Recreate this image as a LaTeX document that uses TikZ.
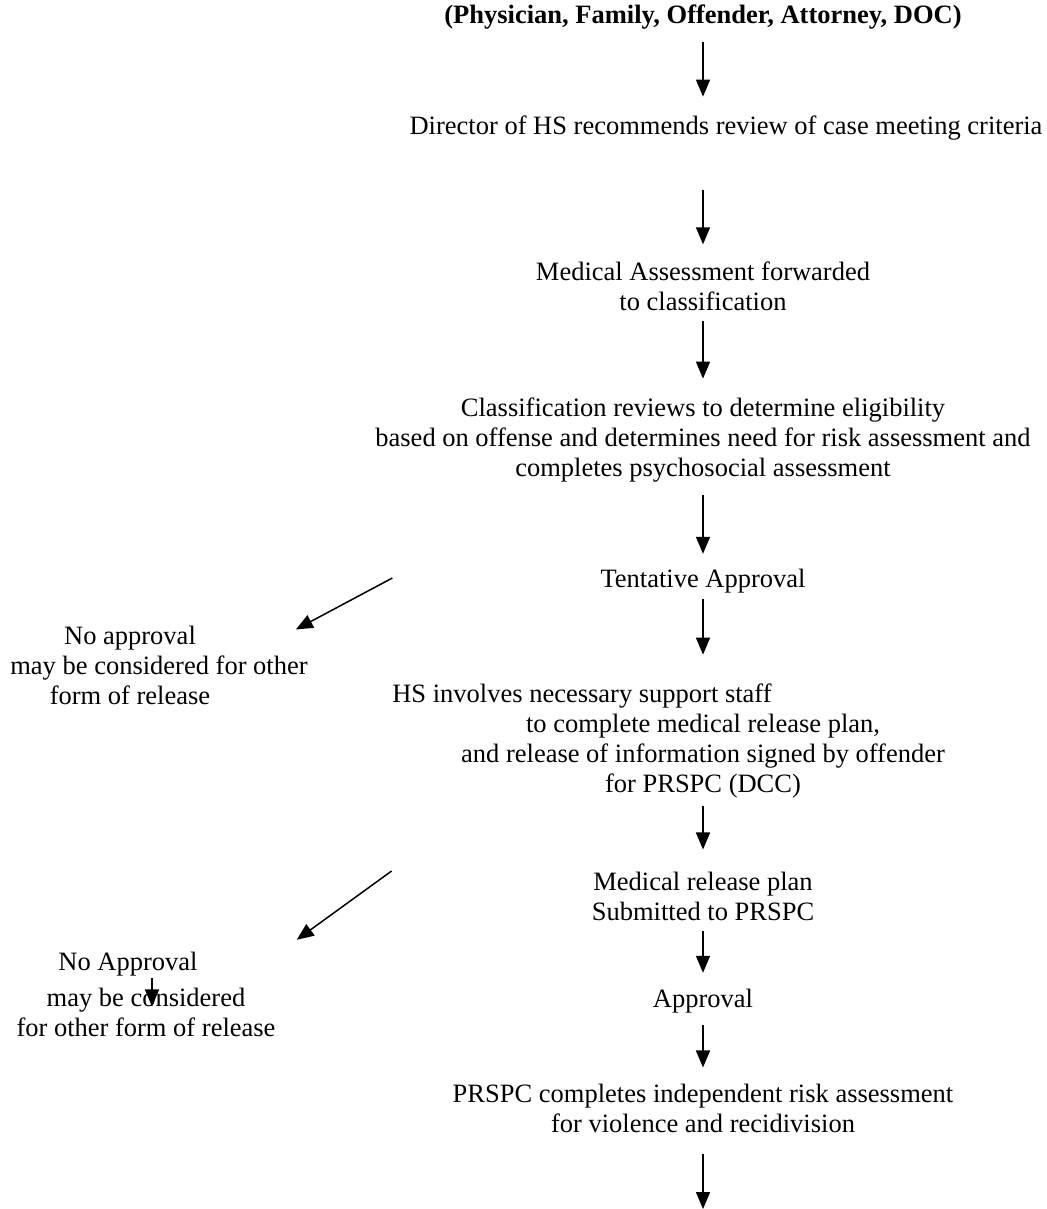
\documentclass[tikz,border=0pt]{standalone}
\usepackage{fontspec}
\setmainfont{Liberation Serif}
\usetikzlibrary{arrows.meta}
\begin{document}
\begin{tikzpicture}[x=1pt,y=-1pt,
  lbl/.style={inner sep=0pt, font=\fontsize{26.5}{30}\selectfont, align=center},
  flow/.style={line width=1.5pt, -{Triangle[length=17pt,width=14pt]}}]
\useasboundingbox[fill=white] (0,0) rectangle (1046,1209);

\node[lbl, font=\fontsize{26.5}{30}\selectfont\bfseries] (src) at (703,17) {(Physician, Family, Offender, Attorney, DOC)};
\node[lbl] (dir) at (726,128) {Director of HS recommends review of case meeting criteria};
\node[lbl] (med) at (703,286) {Medical Assessment forwarded\\to classification};
\node[lbl] (cls) at (703,440) {Classification reviews to determine eligibility\\based on offense and determines need for risk assessment and\\completes psychosocial assessment};
\node[lbl] (tent) at (703,581) {Tentative Approval};
\node[lbl] (noa) at (130,665) {No approval\\\hspace*{58pt}may be considered for other\\form of release};
\node[lbl] (hs) at (703,741) {HS involves necessary support staff\hspace*{242pt}\\to complete medical release plan,\\and release of information signed by offender\\for PRSPC (DCC)};
\node[lbl] (mrp) at (703,896) {Medical release plan\\Submitted to PRSPC};
\node[lbl] (nob) at (128,964) {No Approval};
\node[lbl] (mbc) at (146,1012) {may be considered\\for other form of release};
\node[lbl] (appr) at (703,1001) {Approval};
\node[lbl] (prs) at (703,1108) {PRSPC completes independent risk assessment\\for violence and recidivision};
\coordinate (bottom) at (703,1209);

\draw[flow] ([yshift=-13pt]src.south) -- ([yshift=19pt]src.south |- dir.north);
\draw[flow] ([yshift=-50pt]src.south |- dir.south) -- ([yshift=17pt]med.north);
\draw[flow] ([yshift=-10pt]med.south) -- ([yshift=19pt]cls.north);
\draw[flow] ([yshift=-13pt]cls.south) -- ([yshift=15pt]tent.north);
\draw[flow] ([yshift=-6pt]tent.south) -- ([yshift=29pt]tent.south |- hs.north);
\draw[flow] ([yshift=-8pt]hs.south) -- ([yshift=22pt]mrp.north);
\draw[flow] ([yshift=-10pt]mrp.south) -- ([yshift=16pt]appr.north);
\draw[flow] ([yshift=-12pt]appr.south) -- ([yshift=16pt]prs.north);
\draw[flow] ([yshift=-21pt]prs.south) -- (bottom);
\draw[flow] ([xshift=-208pt,yshift=3pt]tent.west) -- ([xshift=-12pt,yshift=-4pt]noa.north east);
\draw[flow] ([xshift=-200pt,yshift=25pt]mrp.west) -- ([xshift=99pt,yshift=12pt]nob.north east);
\draw[flow] ([xshift=24pt,yshift=-2pt]nob.south) -- ([xshift=6pt,yshift=-19pt]mbc.north);
\end{tikzpicture}
\end{document}
